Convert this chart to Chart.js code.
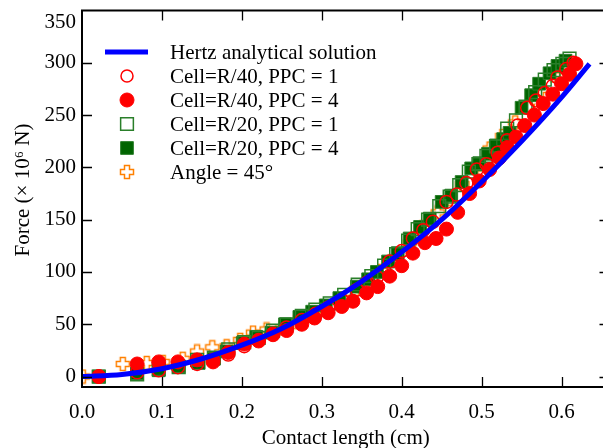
<!DOCTYPE html>
<html><head><meta charset="utf-8">
<script src="https://cdn.jsdelivr.net/npm/chart.js@4/dist/chart.umd.min.js"></script>
<style>html,body{margin:0;padding:0;overflow:hidden;background:#fff}canvas{display:block}</style>
</head><body>
<canvas id="c" width="620" height="451" style="width:620px;height:451px"></canvas>
<script>
// ---- data ----
const xTickValues = [0, 0.1, 0.2, 0.3, 0.4, 0.5, 0.6];
const yTickValues = [0, 50, 100, 150, 200, 250, 300, 350];

const hertzA = [0, 0.05, 0.1, 0.15, 0.2, 0.25, 0.3, 0.35, 0.4, 0.45, 0.5, 0.55, 0.6, 0.635];
const hertzF = [0, 2, 7.5, 17, 30, 46, 67, 91, 119, 150, 186, 225, 267, 299];

const r40p1A = [0.021,0.069,0.096,0.12,0.144,0.164,0.183,0.203,0.221,0.239,0.256,0.275,0.292,0.308,0.325,0.344,0.357,0.369,0.385,0.4,0.414,0.427,0.439,0.456,0.469,0.481,0.494,0.506,0.52,0.532,0.545,0.557,0.568,0.579,0.589,0.595,0.606,0.615];
const r40p1F = [0,4,6,9,12,16,21,29,35,41,47,54,60,66,73,83,90,95,110,120,132,140,148,167,174,185,198,203,214,226,240,257,264,271,278,286,294,300];

const r40p4A = [0.021,0.069,0.096,0.12,0.144,0.164,0.183,0.203,0.221,0.239,0.256,0.275,0.291,0.308,0.325,0.339,0.356,0.37,0.385,0.4,0.414,0.429,0.443,0.456,0.47,0.485,0.497,0.51,0.522,0.532,0.543,0.554,0.566,0.577,0.589,0.6,0.61,0.618];
const r40p4F = [0,12,14,14,16,14,23,31,34,40,44,50,56,61,67,72,80,86,96,106,118,128,132,141,157,175,187,198,209,219,229,240,250,261,270,280,289,299];

const r20p1A = [0.021,0.069,0.096,0.121,0.144,0.165,0.183,0.203,0.221,0.239,0.256,0.275,0.292,0.31,0.328,0.345,0.362,0.378,0.393,0.408,0.42,0.433,0.447,0.46,0.472,0.484,0.496,0.506,0.518,0.532,0.543,0.555,0.567,0.579,0.59,0.601,0.61];
const r20p1F = [0,2,7,9,16,18,26,33,37,44,50,58,64,70,78,88,96,106,117,130,141,150,163,172,183,196,203,211,220,237,245,258,272,284,293,299,304];

const r20p4A = [0.021,0.069,0.096,0.121,0.146,0.165,0.181,0.201,0.218,0.237,0.254,0.272,0.288,0.305,0.322,0.344,0.358,0.369,0.383,0.395,0.41,0.423,0.435,0.45,0.462,0.475,0.487,0.497,0.508,0.518,0.527,0.535,0.55,0.562,0.572,0.585,0.595,0.605];
const r20p4F = [0,3,6,10,13,17,24,32,38,42,50,57,62,68,75,86,93,100,110,118,132,143,151,167,173,186,199,204,213,221,227,233,257,269,280,290,297,302];

const angleA = [0.001,0.051,0.081,0.101,0.126,0.144,0.163,0.181,0.198,0.214,0.231,0.25,0.268,0.285,0.302,0.32,0.338,0.356,0.374,0.392,0.41,0.426,0.445,0.46,0.476,0.492,0.51,0.526,0.542,0.558,0.574,0.59,0.605];
const angleF = [0,12,13,14,17,24,28,29,35,42,45,46,52,58,64,72,80,90,101,114,128,143,157,170,184,199,218,230,243,258,274,288,300];

const seriesLabels = ['Hertz analytical solution','Cell=R/40, PPC = 1','Cell=R/40, PPC = 4','Cell=R/20, PPC = 1','Cell=R/20, PPC = 4','Angle = 45\u00B0'];
const xTitle = 'Contact length (cm)';
const yTitle = 'Force (\u00D7 10\u2076 N)';

// ---- helpers ----
const pts = (a, f) => a.map((v, i) => ({x: v, y: f[i]}));
const FONT = "'Liberation Serif', 'Times New Roman', serif";
Chart.defaults.font.family = FONT;
Chart.defaults.color = '#000';

const ORANGE = '#FF8000', RED = '#FF0000', GREEN = '#006400', GREEN_EDGE = '#2A7F2A', BLUE = '#0000FF';

const plus = document.createElement('canvas');
plus.width = 16; plus.height = 16;
(function(){
  const g = plus.getContext('2d');
  g.strokeStyle = ORANGE; g.lineWidth = 1.5;
  g.beginPath();
  const p = [[5.5,1.5],[10.5,1.5],[10.5,5.5],[14.5,5.5],[14.5,10.5],[10.5,10.5],[10.5,14.5],[5.5,14.5],[5.5,10.5],[1.5,10.5],[1.5,5.5],[5.5,5.5]];
  g.moveTo(p[0][0], p[0][1]);
  for (let i = 1; i < p.length; i++) g.lineTo(p[i][0], p[i][1]);
  g.closePath(); g.stroke();
})();

const frameTicks = {
  id: 'frameTicks',
  afterDraw(chart) {
    const {ctx, chartArea: a, scales} = chart;
    ctx.save();
    ctx.strokeStyle = '#000';
    ctx.lineWidth = 1.3;
    ctx.beginPath();
    scales.x.ticks.forEach(t => {
      if (t.value === 0) return;
      const px = Math.round(scales.x.getPixelForValue(t.value)) + 0.5;
      ctx.moveTo(px, a.bottom); ctx.lineTo(px, a.bottom - 10);
      ctx.moveTo(px, a.top); ctx.lineTo(px, a.top + 10);
    });
    scales.y.ticks.forEach(t => {
      if (t.value === 350) return;
      const py = Math.round(scales.y.getPixelForValue(t.value)) + 0.5;
      ctx.moveTo(a.left, py); ctx.lineTo(a.left + 10, py);
      ctx.moveTo(a.right, py); ctx.lineTo(a.right - 10, py);
    });
    ctx.stroke();
    ctx.lineWidth = 2;
    ctx.strokeRect(a.left, a.top, a.right - a.left, a.bottom - a.top);
    ctx.fillStyle = '#000';
    ctx.font = '21px ' + FONT;
    ctx.textAlign = 'right'; ctx.textBaseline = 'middle';
    ctx.fillText('350', a.left - 6, 22);
    // y axis title
    ctx.translate(23, 190);
    ctx.rotate(-Math.PI / 2);
    ctx.textAlign = 'center';
    ctx.fillText(yTitle, 0, 0);
    ctx.restore();
  }
};

const legendPlugin = {
  id: 'innerLegend',
  afterDraw(chart) {
    const ctx = chart.ctx;
    const ds = chart.data.datasets;
    const mx = 127, tx = 170, y0 = 52, dy = 24;
    ctx.save();
    ctx.font = '21px ' + FONT;
    ctx.textAlign = 'left'; ctx.textBaseline = 'middle';
    ds.forEach((d, i) => {
      const y = y0 + i * dy;
      if (i === 0) {
        ctx.strokeStyle = BLUE; ctx.lineWidth = 5;
        ctx.beginPath(); ctx.moveTo(105, y); ctx.lineTo(148, y); ctx.stroke();
      } else {
        ctx.fillStyle = d.pointBackgroundColor;
        ctx.strokeStyle = d.pointBorderColor;
        ctx.lineWidth = d.pointBorderWidth;
        Chart.helpers.drawPoint(ctx, {pointStyle: d.pointStyle, radius: d.legendRadius, rotation: 0, borderWidth: d.pointBorderWidth}, mx, y);
      }
      ctx.fillStyle = '#000';
      ctx.fillText(d.label, tx, y + 1);
    });
    ctx.restore();
  }
};

new Chart(document.getElementById('c'), {
  type: 'scatter',
  data: {
    datasets: [
      {label: seriesLabels[0], data: pts(hertzA, hertzF), showLine: true, borderColor: BLUE, borderWidth: 5, pointRadius: 0, cubicInterpolationMode: 'monotone', order: 0},
      {label: seriesLabels[1], data: pts(r40p1A, r40p1F), pointStyle: 'circle', pointRadius: 6.5, legendRadius: 6, pointBackgroundColor: 'rgba(0,0,0,0)', pointBorderColor: RED, pointBorderWidth: 1.5, order: 2},
      {label: seriesLabels[2], data: pts(r40p4A, r40p4F), pointStyle: 'circle', pointRadius: 7, legendRadius: 7, pointBackgroundColor: RED, pointBorderColor: RED, pointBorderWidth: 1, order: 1},
      {label: seriesLabels[3], data: pts(r20p1A, r20p1F), pointStyle: 'rect', pointRadius: 9, legendRadius: 9, pointBackgroundColor: 'rgba(0,0,0,0)', pointBorderColor: GREEN_EDGE, pointBorderWidth: 1.5, order: 3},
      {label: seriesLabels[4], data: pts(r20p4A, r20p4F), pointStyle: 'rect', pointRadius: 9, legendRadius: 9, pointBackgroundColor: GREEN, pointBorderColor: GREEN_EDGE, pointBorderWidth: 1, order: 4},
      {label: seriesLabels[5], data: pts(angleA, angleF), pointStyle: plus, pointRadius: 8, legendRadius: 8, pointBackgroundColor: ORANGE, pointBorderColor: ORANGE, pointBorderWidth: 1, order: 5}
    ]
  },
  options: {
    responsive: false,
    devicePixelRatio: 1,
    animation: false,
    events: [],
    layout: {padding: {top: 9.5, right: 5, left: 0, bottom: 0}},
    plugins: {legend: {display: false}, tooltip: {enabled: false}},
    scales: {
      x: {
        type: 'linear', min: 0, max: 0.66,
        afterBuildTicks: s => { s.ticks = xTickValues.map(v => ({value: v})); },
        afterFit: s => { s.height = 64; s.paddingLeft = 0; s.paddingRight = 0; },
        grid: {display: false, drawTicks: false},
        border: {display: false},
        ticks: {callback: v => Number(v).toFixed(1), font: {size: 21}, color: '#000', padding: 13, maxRotation: 0},
        title: {display: true, text: xTitle, font: {size: 21}, color: '#000', padding: {top: 0, bottom: 0}}
      },
      y: {
        type: 'linear', min: -10, max: 350,
        afterBuildTicks: s => { s.ticks = yTickValues.map(v => ({value: v})); },
        afterFit: s => { s.width = 82; s.paddingTop = 0; s.paddingBottom = 0; },
        grid: {display: false, drawTicks: false},
        border: {display: false},
        ticks: {callback: v => (v === 350 ? '' : String(v)), font: {size: 21}, color: '#000', padding: 6},
        title: {display: false, text: yTitle}
      }
    }
  },
  plugins: [frameTicks, legendPlugin]
});
</script>
</body></html>
